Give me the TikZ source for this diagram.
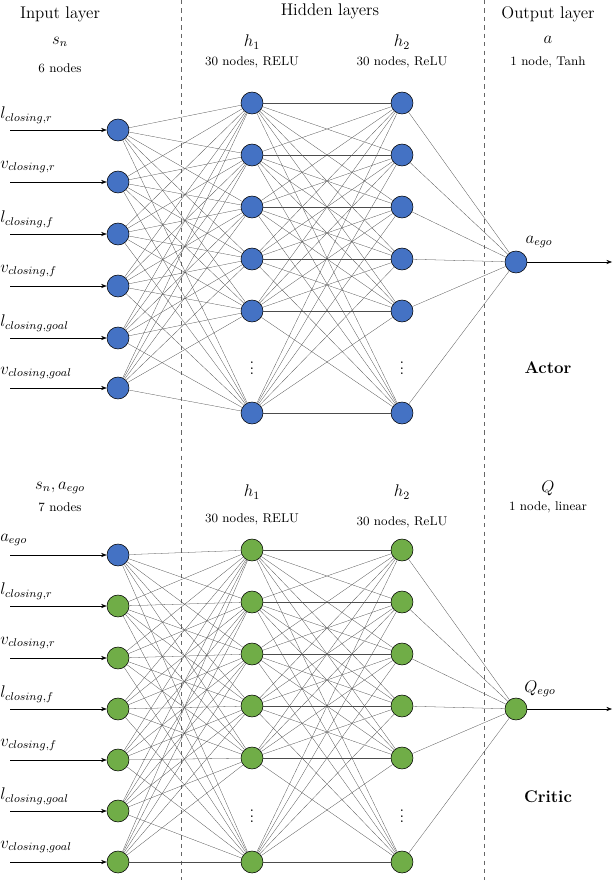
\documentclass[tikz,border=0pt]{standalone}
\usetikzlibrary{arrows.meta}
\begin{document}
\begin{tikzpicture}[x=0.025cm,y=-0.025cm,
  neuron/.style={circle,draw=black,thin,minimum size=0.55cm,inner sep=0pt},
  blu/.style={neuron,fill={rgb,255:red,68;green,114;blue,196}},
  grn/.style={neuron,fill={rgb,255:red,112;green,173;blue,71}},
  link/.style={draw=black!70,very thin},
  io/.style={-{Stealth[length=4pt]},thin},
  txt/.style={font=\large},
  sub/.style={font=\small},
  lab/.style={anchor=west,inner sep=0pt,font=\large}]
\useasboundingbox (0,0) rectangle (616,880);
\draw[dashed,thin,black!60] (181,0) -- (181,880);
\draw[dashed,thin,black!60] (484,0) -- (484,880);
% headers
\node[txt] at (60,14) {Input layer};
\node[txt] at (330,11) {Hidden layers};
\node[txt] at (548,14) {Output layer};
% ---------- Actor ----------
\node[txt] at (60,42) {$s_n$};
\node[sub] at (60,68) {6 nodes};
\node[txt] at (252,42) {$h_1$};
\node[sub] at (252,62) {30 nodes, RELU};
\node[txt] at (402,42) {$h_2$};
\node[sub] at (402,62) {30 nodes, ReLU};
\node[txt] at (548,40) {$a$};
\node[sub] at (548,62) {1 node, Tanh};
\node[font=\large\bfseries] at (548,368) {Actor};
\foreach \i/\y/\l in {1/130/l_{closing,r},2/182/v_{closing,r},3/234/l_{closing,f},4/286/v_{closing,f},5/338/l_{closing,goal},6/388/v_{closing,goal}}{
  \node[blu] (ai\i) at (118,\y) {};
  \coordinate (as\i) at (10,\y);
  \draw[io] (as\i) -- (ai\i);
  \node[lab] at (0,\y-15) {$\l$};
}
\foreach \i/\y in {1/103,2/155,3/207,4/259,5/311,6/413}{
  \node[blu] (ah\i) at (252,\y) {};
  \node[blu] (ak\i) at (402,\y) {};
}
\node[font=\large] at (252,364) {$\vdots$};
\node[font=\large] at (402,364) {$\vdots$};
\node[blu] (ao) at (516,262) {};
\coordinate (ae) at (612,262);
\draw[io] (ao) -- (ae);
\node[txt] at (539,242) {$a_{ego}$};
\foreach \i in {1,...,6}{\foreach \j in {1,...,6}{
  \draw[link] (ai\i) -- (ah\j);
  \draw[link] (ah\i) -- (ak\j);}
  \draw[link] (ak\i) -- (ao);}
% ---------- Critic ----------
\node[txt] at (60,488) {$s_n, a_{ego}$};
\node[sub] at (60,507) {7 nodes};
\node[txt] at (252,492) {$h_1$};
\node[sub] at (252,519) {30 nodes, RELU};
\node[txt] at (402,492) {$h_2$};
\node[sub] at (402,522) {30 nodes, ReLU};
\node[txt] at (548,488) {$Q$};
\node[sub] at (548,507) {1 node, linear};
\node[font=\large\bfseries] at (548,797) {Critic};
\foreach \i/\y/\l/\s in {1/555/a_{ego}/blu,2/606/l_{closing,r}/grn,3/658/v_{closing,r}/grn,4/709/l_{closing,f}/grn,5/760/v_{closing,f}/grn,6/811/l_{closing,goal}/grn,7/862/v_{closing,goal}/grn}{
  \node[\s] (ci\i) at (118,\y) {};
  \coordinate (cs\i) at (10,\y);
  \draw[io] (cs\i) -- (ci\i);
  \node[lab] at (0,\y-15) {$\l$};
}
\foreach \i/\y in {1/550,2/602,3/654,4/706,5/758,6/862}{
  \node[grn] (ch\i) at (252,\y) {};
  \node[grn] (ck\i) at (402,\y) {};
}
\node[font=\large] at (252,812) {$\vdots$};
\node[font=\large] at (402,812) {$\vdots$};
\node[grn] (co) at (516,709) {};
\coordinate (ce) at (612,709);
\draw[io] (co) -- (ce);
\node[txt] at (540,689) {$Q_{ego}$};
\foreach \j in {1,...,6}{
  \foreach \i in {1,...,7}{\draw[link] (ci\i) -- (ch\j);}
  \foreach \i in {1,...,6}{\draw[link] (ch\i) -- (ck\j);}
  \draw[link] (ck\j) -- (co);}
\end{tikzpicture}
\end{document}
